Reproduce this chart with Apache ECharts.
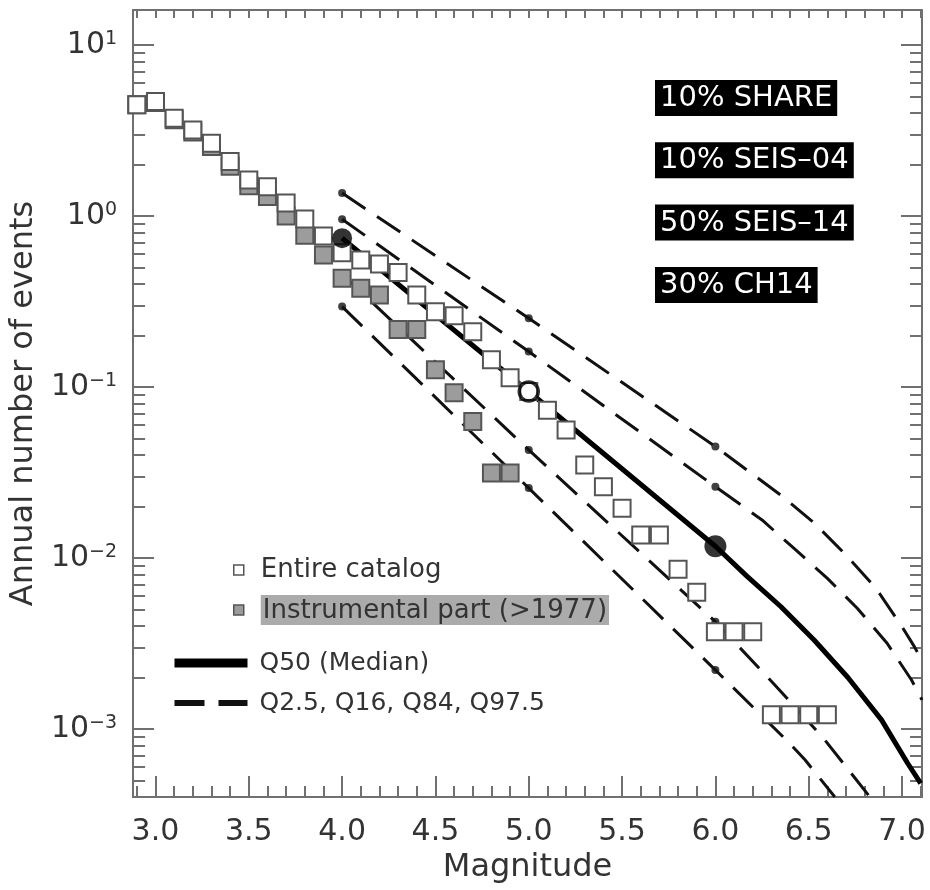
<!DOCTYPE html>
<html>
<head>
<meta charset="utf-8">
<script src="https://cdn.jsdelivr.net/npm/echarts@6/dist/echarts.min.js"></script>
<style>
  html, body { margin: 0; padding: 0; background: #fff; }
  #chart { width: 930px; height: 890px; }
</style>
</head>
<body>
<div id="chart"></div>
<script>
// binned magnitudes and annual rates
var catalogMag = [2.9, 3.0, 3.1, 3.2, 3.3, 3.4, 3.5, 3.6, 3.7, 3.8, 3.9, 4.0, 4.1, 4.2, 4.3, 4.4, 4.5, 4.6, 4.7,
  4.8, 4.9, 5.0, 5.1, 5.2, 5.3, 5.4, 5.5, 5.6, 5.7, 5.8, 5.9, 6.0, 6.1, 6.2, 6.3, 6.4, 6.5, 6.6];
var entireCatalog = [4.46, 4.66, 3.73, 3.18, 2.66, 2.08, 1.62, 1.48, 1.19, 0.96, 0.764, 0.61, 0.553, 0.524, 0.467,
  0.345, 0.275, 0.261, 0.21, 0.144, 0.113, 0.094, 0.073, 0.056, 0.035, 0.0261, 0.0195, 0.0136, 0.0136, 0.0086,
  0.0063, 0.0037, 0.0037, 0.0037, 0.00121, 0.00121, 0.00121, 0.00121];

var instMag = [2.9, 3.0, 3.1, 3.2, 3.3, 3.4, 3.5, 3.6, 3.7, 3.8, 3.9, 4.0, 4.1, 4.2, 4.3, 4.4, 4.5, 4.6, 4.7, 4.8, 4.9];
var instrumental = [4.46, 4.6, 3.65, 3.1, 2.55, 1.95, 1.5, 1.3, 1.0, 0.77, 0.59, 0.432, 0.378, 0.345, 0.217, 0.217,
  0.126, 0.0926, 0.0627, 0.0314, 0.0314];

// fractiles of the combined model
var q50Mag = [4.0, 5.0, 6.0, 6.17, 6.35, 6.53, 6.71, 6.89, 7.03, 7.1];
var q50Val = [0.741, 0.094, 0.0117, 0.0078, 0.0052, 0.0033, 0.002, 0.00113, 0.00063, 0.00048];

var q975Mag = [4.0, 5.0, 6.0, 6.35, 6.53, 6.7, 6.86, 7.0, 7.066, 7.107];
var q975Val = [1.36, 0.252, 0.0448, 0.0233, 0.016, 0.0104, 0.00665, 0.00396, 0.00303, 0.00251];

var q84Mag = [4.0, 5.0, 6.0, 6.25, 6.42, 6.6, 6.76, 6.92, 7.05, 7.107];
var q84Val = [0.957, 0.161, 0.0261, 0.01667, 0.0114, 0.0076, 0.00508, 0.00317, 0.00194, 0.00148];

var q16Mag = [4.0, 5.0, 6.0, 6.3, 6.58, 6.82];
var q16Val = [0.457, 0.0428, 0.00424, 0.0019, 0.00088, 0.00041];

var q025Mag = [4.0, 5.0, 6.0, 6.39, 6.48, 6.64];
var q025Val = [0.295, 0.0256, 0.00221, 0.00084, 0.00066, 0.0004];

var markMag = [4.0, 5.0, 6.0];
var boxLabels = ['10% SHARE', '10% SEIS\u201304', '50% SEIS\u201314', '30% CH14'];

var xMajor = [3.0, 3.5, 4.0, 4.5, 5.0, 5.5, 6.0, 6.5, 7.0];
var yMajor = [0.001, 0.01, 0.1, 1, 10];

var FONT = 'DejaVu Sans';
var AXIS = '#707070';
var TXT = '#333';

var xMinor = [];
for (var i = 29; i <= 71; i++) xMinor.push(i / 10);
var yMinor = [];
for (var e = -4; e <= 1; e++) {
  for (var k = 2; k <= 9; k++) {
    var v = +(k * Math.pow(10, e)).toPrecision(3);
    if (v >= 0.0004 && v <= 16) yMinor.push(v);
  }
}

function pairs(xs, ys) {
  return xs.map(function (x, i) { return [x, ys[i]]; });
}
function atMarks(xs, ys) {
  var out = [];
  xs.forEach(function (x, i) { if (markMag.indexOf(x) >= 0) out.push([x, ys[i]]); });
  return out;
}

var chart = echarts.init(document.getElementById('chart'));

function xAx(pos, tickVals, len, labels, line) {
  return {
    type: 'value', min: 2.88, max: 7.107, position: pos,
    axisLine: { show: line, onZero: false, lineStyle: { color: AXIS, width: 2 } },
    axisTick: { inside: true, length: len, customValues: tickVals, lineStyle: { color: AXIS, width: 2 } },
    axisLabel: labels ? {
      customValues: xMajor, margin: 20, color: TXT, fontSize: 30, fontFamily: FONT,
      formatter: function (v) { return v.toFixed(1); }
    } : { show: false },
    splitLine: { show: false }
  };
}
function yAx(pos, tickVals, len, labels, line) {
  return {
    type: 'log', logBase: 10, min: 0.0004, max: 16, position: pos,
    axisLine: { show: line, onZero: false, lineStyle: { color: AXIS, width: 2 } },
    axisTick: { inside: true, length: len, customValues: tickVals, lineStyle: { color: AXIS, width: 2 } },
    axisLabel: labels ? {
      customValues: yMajor, margin: 16, color: TXT, fontFamily: FONT,
      formatter: function (v) {
        var p = Math.round(Math.log10(v));
        return '{b|10}{s|' + (p < 0 ? '\u2212' + (-p) : p) + '}';
      },
      rich: {
        b: { fontSize: 30, fontFamily: FONT, color: TXT },
        s: { fontSize: 19, fontFamily: FONT, color: TXT, verticalAlign: 'top' }
      }
    } : { show: false },
    splitLine: { show: false },
    minorTick: { show: false }
  };
}

var xAxes = [xAx('bottom', xMajor, 21, true, true), xAx('bottom', xMinor, 11, false, false), xAx('top', xMinor, 8, false, true)];
xAxes[0].name = 'Magnitude';
xAxes[0].nameLocation = 'middle';
xAxes[0].nameGap = 52;
xAxes[0].nameTextStyle = { fontSize: 32, fontFamily: FONT, color: TXT };

var yAxes = [yAx('left', yMajor, 21, true, true), yAx('left', yMinor, 12, false, false),
  yAx('right', yMajor, 21, false, true), yAx('right', yMinor, 12, false, false)];
yAxes[0].name = 'Annual number of events';
yAxes[0].nameLocation = 'middle';
yAxes[0].nameGap = 74;
yAxes[0].nameTextStyle = { fontSize: 32, fontFamily: FONT, color: TXT };

var QNAME = 'Q2.5, Q16, Q84, Q97.5';
var dashed = [[q975Mag, q975Val], [q84Mag, q84Val], [q16Mag, q16Val], [q025Mag, q025Val]];
var noDot = { color: 'rgba(0,0,0,0)', borderColor: 'rgba(0,0,0,0)', borderWidth: 0 };

var series = [];
dashed.forEach(function (q) {
  series.push({
    name: QNAME, type: 'line', data: pairs(q[0], q[1]), symbol: 'none',
    itemStyle: { color: '#111' },
    lineStyle: { color: '#111', width: 3, type: [28, 14] }, z: 2
  });
  series.push({
    name: 'fractile points', type: 'scatter', data: atMarks(q[0], q[1]), symbol: 'circle', symbolSize: 8,
    itemStyle: { color: '#111' }, z: 2
  });
});
series.push({
  name: 'Q50 (Median)', type: 'line', data: pairs(q50Mag, q50Val), symbol: 'none',
  itemStyle: { color: '#000' },
  lineStyle: { color: '#000', width: 5 }, z: 2
});
series.push({
  name: 'Instrumental part (>1977)', type: 'scatter', data: pairs(instMag, instrumental), symbol: 'rect', symbolSize: 17,
  itemStyle: { color: '#9c9c9c', borderColor: '#555', borderWidth: 2, opacity: 1 }, z: 3
});
series.push({
  name: 'Entire catalog', type: 'scatter', data: pairs(catalogMag, entireCatalog), symbol: 'rect', symbolSize: 17,
  itemStyle: { color: '#fff', borderColor: '#555', borderWidth: 2, opacity: 1 }, z: 4
});
var medMarks = atMarks(q50Mag, q50Val);
series.push({
  name: 'median points', type: 'scatter', z: 5,
  data: [
    { value: medMarks[0], symbol: 'circle', symbolSize: 20, itemStyle: { color: '#000' } },
    { value: medMarks[1], symbol: 'circle', symbolSize: 19,
      itemStyle: { color: 'rgba(0,0,0,0)', borderColor: '#000', borderWidth: 3.5 } },
    { value: medMarks[2], symbol: 'circle', symbolSize: 22, itemStyle: { color: '#000' } }
  ]
});

chart.setOption({
  animation: false,
  backgroundColor: '#fff',
  grid: { left: 132, top: 10, width: 790, height: 787, containLabel: false },
  xAxis: xAxes,
  yAxis: yAxes,
  legend: [{
    data: ['Entire catalog', 'Instrumental part (>1977)'],
    orient: 'vertical', left: 228, top: 550, itemWidth: 10, itemHeight: 10, itemGap: 10,
    selectedMode: false,
    itemStyle: { borderWidth: 1.5 },
    textStyle: {
      fontSize: 26, fontFamily: FONT, color: TXT, lineHeight: 30,
      rich: {
        g: { width: 12 },
        h: { backgroundColor: '#ababab', padding: [3, 2, 1, 2], fontSize: 26, fontFamily: FONT, color: TXT }
      }
    },
    formatter: function (name) {
      return name === 'Entire catalog' ? '{g|}' + name : '{g|}{h|' + name + '}';
    }
  }, {
    data: [
      { name: 'Q50 (Median)', lineStyle: { width: 9 }, itemStyle: noDot },
      { name: QNAME, lineStyle: { width: 6, type: [30, 14] }, itemStyle: noDot }
    ],
    orient: 'vertical', left: 165, top: 643, itemWidth: 73, itemHeight: 12, itemGap: 10,
    selectedMode: false,
    textStyle: { fontSize: 25, fontFamily: FONT, color: TXT, lineHeight: 30, rich: { g: { width: 7 } } },
    formatter: function (name) { return '{g|}' + name; }
  }],
  graphic: boxLabels.map(function (t, i) {
    return {
      type: 'text', left: 655, top: 80 + i * 62.3, z: 10,
      style: { text: t, fill: '#fff', font: '29px "' + FONT + '"', backgroundColor: '#000', padding: [4, 5, 3, 5] }
    };
  }),
  series: series
});
</script>
</body>
</html>
